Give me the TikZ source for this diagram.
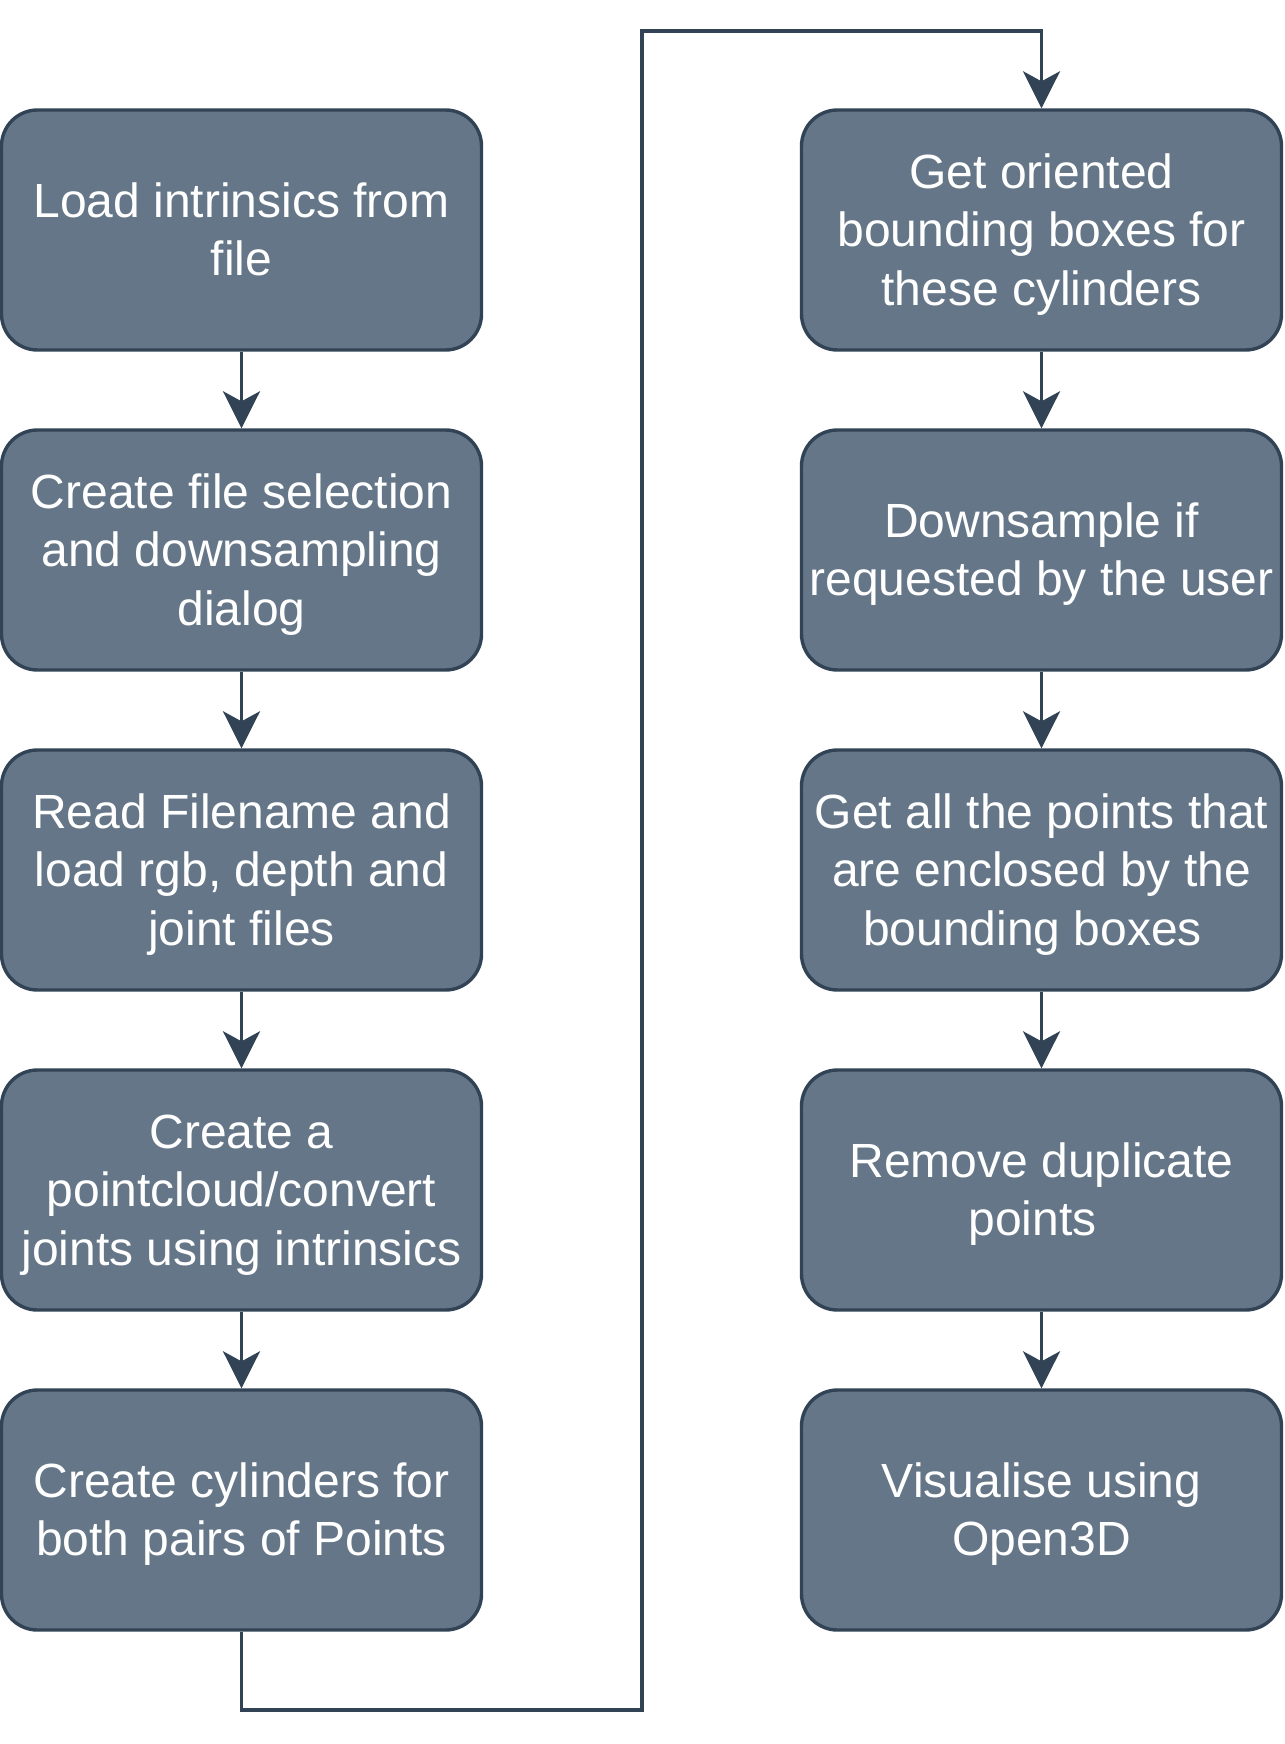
\documentclass[tikz,border=0pt]{standalone}
\usepackage{fontspec}
\setmainfont{Liberation Sans}
\usetikzlibrary{arrows.meta}
\definecolor{boxfill}{HTML}{647687}
\definecolor{boxline}{HTML}{314354}
\newcommand{\lnstrut}{\rule[-0.2535em]{0pt}{1.2em}}
\begin{document}
\begin{tikzpicture}[x=1pt,y=-1pt,
  stepbox/.style={draw=boxline, fill=boxfill, line width=3.4pt, rounded corners=36pt,
    minimum width=480pt, minimum height=240pt, inner sep=0pt, text=white,
    align=center, font=\fontsize{48}{58.5}\selectfont},
  conn/.style={draw=boxline, line width=3.6pt,
    -{Stealth[length=37pt,width=37pt,inset=10pt]}}]
\useasboundingbox (0,0) rectangle (1284,1744);
\node[stepbox] (l1) at (241.5,230) {\lnstrut Load intrinsics from\\\lnstrut file};
\node[stepbox] (l2) at (241.5,550) {\lnstrut Create file selection\\\lnstrut and downsampling\\\lnstrut dialog};
\node[stepbox] (l3) at (241.5,870) {\lnstrut Read Filename and\\\lnstrut load rgb, depth and\\\lnstrut joint files};
\node[stepbox] (l4) at (241.5,1190) {\lnstrut Create a\\\lnstrut pointcloud/convert\\\lnstrut joints using intrinsics};
\node[stepbox] (l5) at (241.5,1510) {\lnstrut Create cylinders for\\\lnstrut both pairs of Points};
\node[stepbox] (r1) at (1041.5,230) {\lnstrut Get oriented\\\lnstrut bounding boxes for\\\lnstrut these cylinders};
\node[stepbox] (r2) at (1041.5,550) {\lnstrut Downsample if\\\lnstrut requested by the user};
\node[stepbox] (r3) at (1041.5,870) {\lnstrut Get all the points that\\\lnstrut are enclosed by the\\\lnstrut bounding boxes\kern18pt};
\node[stepbox] (r4) at (1041.5,1190) {\lnstrut Remove duplicate\\\lnstrut points\kern18pt};
\node[stepbox] (r5) at (1041.5,1510) {\lnstrut Visualise using\\\lnstrut Open3D};
\coordinate (c1) at (642,1710);
\coordinate (c2) at (642,31);
\draw[conn] (l1) -- (l2);
\draw[conn] (l2) -- (l3);
\draw[conn] (l3) -- (l4);
\draw[conn] (l4) -- (l5);
\draw[conn] (l5.south) |- (c1) -- (c2) -| (r1.north);
\draw[conn] (r1) -- (r2);
\draw[conn] (r2) -- (r3);
\draw[conn] (r3) -- (r4);
\draw[conn] (r4) -- (r5);
\end{tikzpicture}
\end{document}
